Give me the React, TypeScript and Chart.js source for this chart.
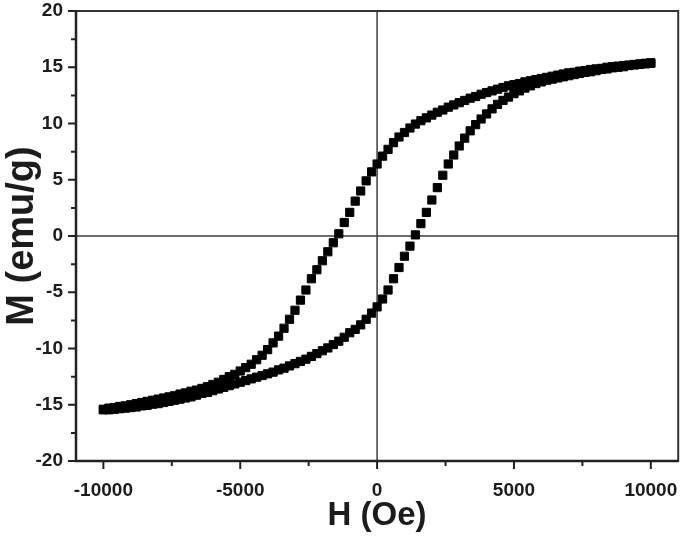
import React, { useEffect, useRef } from "react";
import { Chart, registerables } from "chart.js";

Chart.register(...registerables);

// Applied field H (Oe)
const fieldOe = [
  -10000, -9800, -9600, -9400, -9200, -9000, -8800, -8600, -8400, -8200,
  -8000, -7800, -7600, -7400, -7200, -7000, -6800, -6600, -6400, -6200,
  -6000, -5800, -5600, -5400, -5200, -5000, -4800, -4600, -4400, -4200,
  -4000, -3800, -3600, -3400, -3200, -3000, -2800, -2600, -2400, -2200,
  -2000, -1800, -1600, -1400, -1200, -1000, -800, -600, -400, -200,
  0,
  200, 400, 600, 800, 1000, 1200, 1400, 1600, 1800, 2000,
  2200, 2400, 2600, 2800, 3000, 3200, 3400, 3600, 3800, 4000,
  4200, 4400, 4600, 4800, 5000, 5200, 5400, 5600, 5800, 6000,
  6200, 6400, 6600, 6800, 7000, 7200, 7400, 7600, 7800, 8000,
  8200, 8400, 8600, 8800, 9000, 9200, 9400, 9600, 9800, 10000,
];

// Magnetization M (emu/g), descending branch (upper curve)
const magDescending = [
  -15.4, -15.3, -15.25, -15.15, -15.1, -15.0, -14.9, -14.8, -14.7, -14.6,
  -14.5, -14.4, -14.3, -14.2, -14.05, -13.95, -13.8, -13.7, -13.55, -13.4,
  -13.2, -13.0, -12.75, -12.5, -12.3, -12.0, -11.7, -11.4, -11.0, -10.6,
  -10.1, -9.5, -8.9, -8.2, -7.4, -6.6, -5.7, -4.8, -3.8, -3.0,
  -2.2, -1.4, -0.6, 0.2, 1.2, 2.1, 3.1, 4.0, 4.9, 5.7,
  6.4,
  7.1, 7.7, 8.3, 8.8, 9.2, 9.6, 9.95, 10.25, 10.5, 10.75,
  11.0, 11.2, 11.45, 11.65, 11.85, 12.05, 12.25, 12.4, 12.6, 12.75,
  12.9, 13.05, 13.2, 13.35, 13.45, 13.55, 13.7, 13.8, 13.9, 14.0,
  14.1, 14.2, 14.3, 14.4, 14.5, 14.55, 14.65, 14.7, 14.8, 14.85,
  14.9, 15.0, 15.05, 15.1, 15.15, 15.2, 15.25, 15.3, 15.35, 15.4,
];

// Magnetization M (emu/g), ascending branch (lower curve)
const magAscending = [
  -15.45, -15.45, -15.4, -15.35, -15.3, -15.25, -15.2, -15.1, -15.05, -14.95,
  -14.9, -14.8, -14.7, -14.6, -14.5, -14.4, -14.3, -14.15, -14.0, -13.9,
  -13.75, -13.6, -13.45, -13.3, -13.15, -13.0, -12.85, -12.7, -12.55, -12.4,
  -12.25, -12.1, -11.9, -11.75, -11.55, -11.35, -11.15, -10.95, -10.7, -10.45,
  -10.2, -9.95, -9.65, -9.35, -9.0, -8.6, -8.3, -7.9, -7.4, -6.85,
  -6.3,
  -5.6, -4.8, -3.8, -2.8, -1.8, -0.9, 0.1, 1.1, 2.1, 3.2,
  4.3, 5.4, 6.4, 7.2, 8.0, 8.7, 9.35, 9.9, 10.4, 10.85,
  11.3, 11.7, 12.05, 12.35, 12.65, 12.9, 13.15, 13.35, 13.55, 13.7,
  13.85, 13.95, 14.05, 14.15, 14.25, 14.35, 14.45, 14.55, 14.6, 14.7,
  14.8, 14.85, 14.95, 15.0, 15.05, 15.15, 15.2, 15.25, 15.3, 15.35,
];

const xMajorTicks = [-10000, -5000, 0, 5000, 10000];
const xMinorTicks = [-7500, -2500, 2500, 7500];
const yMajorTicks = [-20, -15, -10, -5, 0, 5, 10, 15, 20];
const yMinorTicks = [-17.5, -12.5, -7.5, -2.5, 2.5, 7.5, 12.5, 17.5];

const xTitle = "H (Oe)";
const yTitle = "M (emu/g)";

const FONT = "'Liberation Sans', Arial, Helvetica, sans-serif";
const INK = "#1c1c1c";

const framePlugin = {
  id: "frameAndTicks",
  beforeDatasetsDraw(chart: any) {
    const { ctx, chartArea, scales } = chart;
    const { left, right, top, bottom } = chartArea;
    const xs = scales.x;
    const ys = scales.y;
    ctx.save();
    // zero lines
    ctx.strokeStyle = "#3c3c3c";
    ctx.lineWidth = 1.5;
    const x0 = xs.getPixelForValue(0);
    const y0 = ys.getPixelForValue(0);
    ctx.beginPath();
    ctx.moveTo(x0, top);
    ctx.lineTo(x0, bottom);
    ctx.moveTo(left, y0);
    ctx.lineTo(right, y0);
    ctx.stroke();
    // frame (top/right thinner, left/bottom axes heavier)
    ctx.strokeStyle = "#333";
    ctx.lineWidth = 2;
    ctx.strokeRect(left, top, right - left, bottom - top);
    ctx.strokeStyle = "#222";
    ctx.lineWidth = 2.5;
    ctx.beginPath();
    ctx.moveTo(left, top);
    ctx.lineTo(left, bottom);
    ctx.lineTo(right, bottom);
    ctx.stroke();
    // tick marks
    ctx.lineWidth = 2;
    ctx.beginPath();
    for (const v of xMajorTicks) {
      const p = xs.getPixelForValue(v);
      ctx.moveTo(p, bottom);
      ctx.lineTo(p, bottom + 8);
    }
    for (const v of xMinorTicks) {
      const p = xs.getPixelForValue(v);
      ctx.moveTo(p, bottom);
      ctx.lineTo(p, bottom + 5);
    }
    for (const v of yMajorTicks) {
      const p = ys.getPixelForValue(v);
      ctx.moveTo(left, p);
      ctx.lineTo(left - 8, p);
    }
    for (const v of yMinorTicks) {
      const p = ys.getPixelForValue(v);
      ctx.moveTo(left, p);
      ctx.lineTo(left - 5, p);
    }
    ctx.stroke();
    ctx.restore();
  },
};

export default function App() {
  const canvasRef = useRef<HTMLCanvasElement | null>(null);

  useEffect(() => {
    if (!canvasRef.current) return;
    const pointStyle = {
      showLine: false,
      pointStyle: "rect" as const,
      pointRadius: 5.8,
      pointBorderWidth: 1,
      pointBackgroundColor: "#000",
      pointBorderColor: "#000",
      backgroundColor: "#000",
      borderColor: "#000",
    };
    const zeroPad = (s: any) => {
      s.paddingLeft = 0;
      s.paddingRight = 0;
      s.paddingTop = 0;
      s.paddingBottom = 0;
    };
    const chart = new Chart(canvasRef.current, {
      type: "scatter",
      data: {
        datasets: [
          {
            label: "descending",
            data: fieldOe.map((h, i) => ({ x: h, y: magDescending[i] })),
            ...pointStyle,
          },
          {
            label: "ascending",
            data: fieldOe.map((h, i) => ({ x: h, y: magAscending[i] })),
            ...pointStyle,
          },
        ],
      },
      options: {
        animation: false,
        responsive: false,
        maintainAspectRatio: false,
        layout: { padding: { top: 11, right: 3, left: 0, bottom: 0 } },
        plugins: {
          legend: { display: false },
          tooltip: { enabled: false },
        },
        scales: {
          x: {
            type: "linear",
            min: -11000,
            max: 11000,
            afterBuildTicks: (s: any) => {
              s.ticks = xMajorTicks.map((v) => ({ value: v }));
            },
            afterFit: (s: any) => {
              s.height = 77;
              zeroPad(s);
            },
            grid: { display: false, drawTicks: false },
            border: { display: false },
            ticks: {
              padding: 18,
              color: INK,
              maxRotation: 0,
              autoSkip: false,
              font: { family: FONT, size: 19, weight: "bold" },
              callback: (v: any) => String(v),
            },
            title: {
              display: true,
              text: xTitle,
              color: INK,
              padding: { top: 0, bottom: 2 },
              font: { family: FONT, size: 33, weight: "bold" },
            },
          },
          y: {
            type: "linear",
            min: -20,
            max: 20,
            afterBuildTicks: (s: any) => {
              s.ticks = yMajorTicks.map((v) => ({ value: v }));
            },
            afterFit: (s: any) => {
              s.width = 76;
              zeroPad(s);
            },
            grid: { display: false, drawTicks: false },
            border: { display: false },
            ticks: {
              padding: 13,
              color: INK,
              autoSkip: false,
              font: { family: FONT, size: 19, weight: "bold" },
              callback: (v: any) => String(v),
            },
            title: {
              display: true,
              text: yTitle,
              color: INK,
              padding: { top: 0, bottom: 0 },
              font: { family: FONT, size: 38, weight: "bold" },
            },
          },
        },
      },
      plugins: [framePlugin],
    });
    return () => chart.destroy();
  }, []);

  return (
    <div
      style={{
        position: "fixed",
        left: 0,
        top: 0,
        width: 685,
        height: 538,
        background: "#fff",
      }}
    >
      <canvas
        ref={canvasRef}
        width={685}
        height={538}
        style={{ display: "block", width: 685, height: 538 }}
      />
    </div>
  );
}
